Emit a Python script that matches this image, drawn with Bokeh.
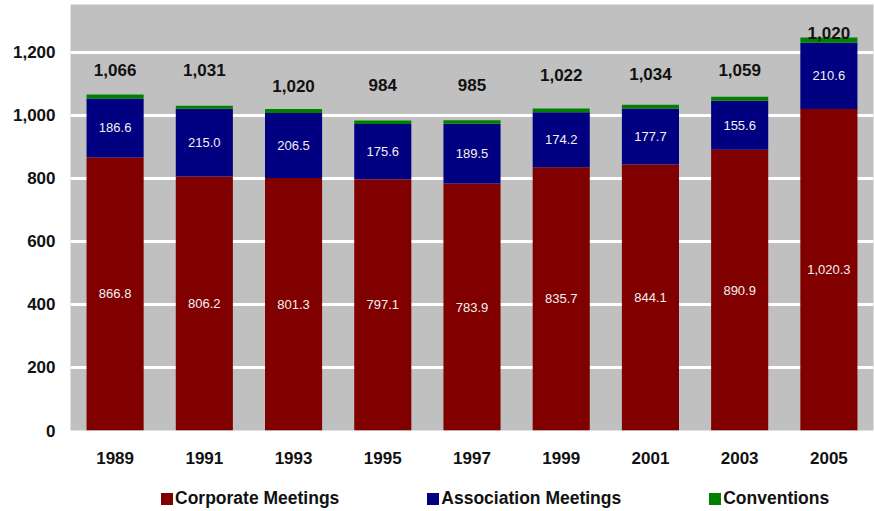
from bokeh.plotting import figure
from bokeh.layouts import column
from bokeh.models import (ColumnDataSource, Range1d, FixedTicker, NumeralTickFormatter,
                          Legend, LegendItem)
from bokeh.core.properties import value
from bokeh.embed import file_html
from bokeh.resources import INLINE

# Spending by meeting type (in billions), every other year
years = ["1989", "1991", "1993", "1995", "1997", "1999", "2001", "2003", "2005"]
corporate = [866.8, 806.2, 801.3, 797.1, 783.9, 835.7, 844.1, 890.9, 1020.3]
association = [186.6, 215.0, 206.5, 175.6, 189.5, 174.2, 177.7, 155.6, 210.6]
conventions = [12.6, 9.8, 12.2, 11.3, 11.6, 12.1, 12.2, 12.5, 16.0]
total_labels = ["1,066", "1,031", "1,020", "984", "985", "1,022", "1,034", "1,059", "1,020"]

# height (axis units) at which each total is written
total_label_y = [1143, 1143, 1092, 1095, 1095, 1127, 1133, 1143, 1260]

series_names = ["Corporate Meetings", "Association Meetings", "Conventions"]
colors = ["#800000", "#000080", "#008000"]
FONT = "Liberation Sans"

source = ColumnDataSource(dict(
    year=years,
    corporate=corporate,
    association=association,
    conventions=conventions,
    corp_mid=[c / 2 for c in corporate],
    assoc_mid=[c + a / 2 for c, a in zip(corporate, association)],
    corp_txt=["{:,.1f}".format(c) for c in corporate],
    assoc_txt=["{:,.1f}".format(a) for a in association],
    total_txt=total_labels,
    total_y=total_label_y,
))

p = figure(x_range=years, y_range=Range1d(0, 1352), width=874, height=475,
           output_backend="svg", toolbar_location=None,
           min_border_left=70, min_border_right=1, min_border_top=4,
           min_border_bottom=45)

p.vbar_stack(["corporate", "association", "conventions"], x="year",
             width=0.64, color=colors, line_color=None, source=source)

# value labels inside the segments
p.text(x="year", y="corp_mid", text="corp_txt", source=source,
       text_align="center", text_baseline="middle", text_color="#F4F0F0",
       text_font=value(FONT), text_font_size="13px")
p.text(x="year", y="assoc_mid", text="assoc_txt", source=source,
       text_align="center", text_baseline="middle", text_color="#F4F0F0",
       text_font=value(FONT), text_font_size="13px")
# totals above the bars
p.text(x="year", y="total_y", text="total_txt", source=source,
       text_align="center", text_baseline="middle", text_color="#111111",
       text_font=value(FONT), text_font_size="17px", text_font_style="bold")

p.background_fill_color = "#C0C0C0"
p.border_fill_color = "white"
p.outline_line_color = None
p.xgrid.grid_line_color = None
p.ygrid.grid_line_color = "white"
p.ygrid.grid_line_width = 3
p.x_range.range_padding = 0

p.yaxis.ticker = FixedTicker(ticks=[0, 200, 400, 600, 800, 1000, 1200])
p.yaxis.formatter = NumeralTickFormatter(format="0,0")
for ax in (p.xaxis[0], p.yaxis[0]):
    ax.axis_line_color = None
    ax.major_tick_line_color = None
    ax.minor_tick_line_color = None
    ax.major_label_text_font = FONT
    ax.major_label_text_font_size = "17px"
    ax.major_label_text_font_style = "bold"
    ax.major_label_text_color = "#111111"
p.yaxis.major_label_standoff = 9
p.xaxis.major_label_standoff = 15

# legend strip under the chart (its frame lines up with the chart's frame)
leg = figure(width=874, height=36, output_backend="svg", toolbar_location=None,
             x_range=Range1d(0, 1), y_range=Range1d(0, 1),
             min_border_left=70, min_border_right=1,
             min_border_top=0, min_border_bottom=0)
leg.axis.visible = False
leg.grid.visible = False
leg.outline_line_color = None
# zero-size quads: they only lend their colour to the legend swatches
swatches = [leg.quad(left=[0], right=[0], top=[0], bottom=[0], color=c, line_color=None)
            for c in colors]
legend = Legend(items=[LegendItem(label=n, renderers=[r]) for n, r in zip(series_names, swatches)],
                orientation="horizontal", location=(89, 2),
                label_text_font=FONT, label_text_font_size="17.5px",
                label_text_font_style="bold", label_text_color="#111111",
                glyph_width=15, glyph_height=15, label_standoff=1, spacing=86,
                padding=0, margin=0, border_line_color=None,
                background_fill_alpha=0)
leg.add_layout(legend, "center")

open("out.html", "w").write(file_html(column(p, leg, spacing=0), INLINE))
